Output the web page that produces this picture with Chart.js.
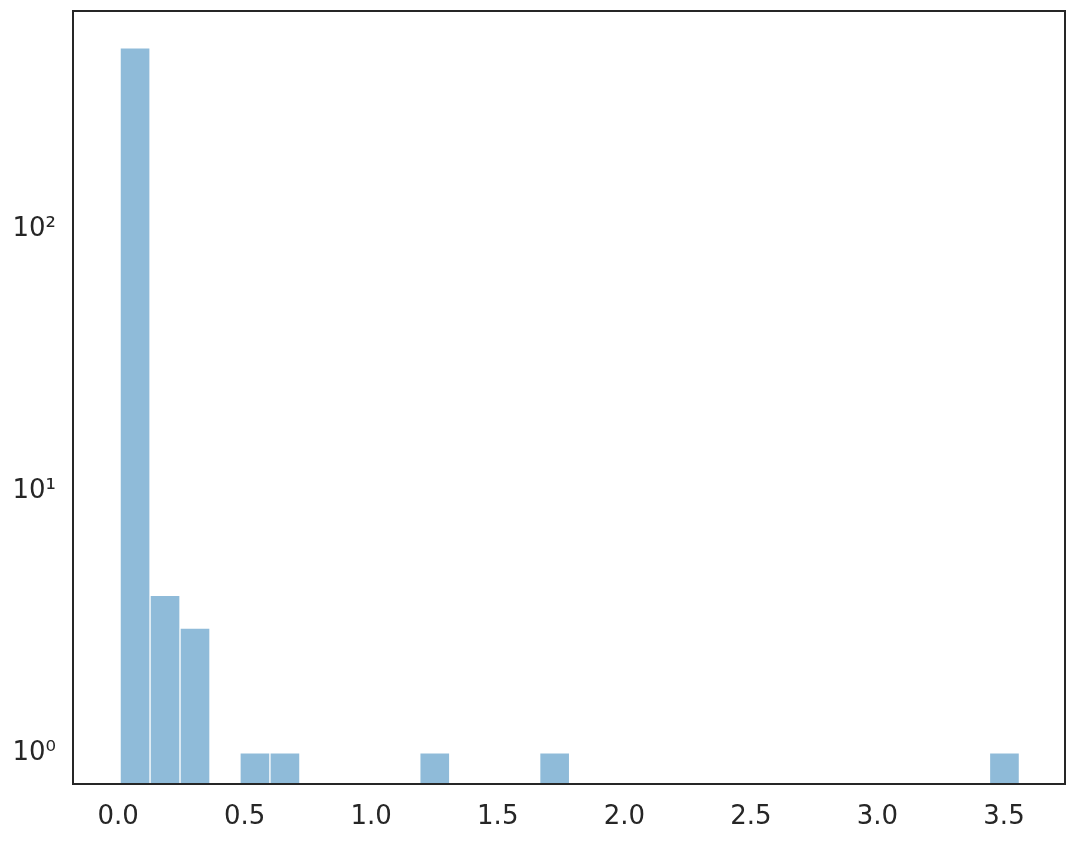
<!DOCTYPE html>
<html>
<head>
<meta charset="utf-8">
<script src="https://cdn.jsdelivr.net/npm/chart.js@4"></script>
<style>
  body { margin: 0; background: #fff; }
  #wrap { width: 1076px; height: 846px; }
</style>
</head>
<body>
<div id="wrap"><canvas id="chart"></canvas></div>
<script>
// histogram bins that have counts (bin centres, bin width ~0.1184)
const binCenters = [0.0672, 0.1856, 0.304, 0.5408, 0.6592, 1.2512, 1.7248, 3.5018];
const binCounts = [495, 4, 3, 1, 1, 1, 1, 1];

const xTicks = [0, 0.5, 1.0, 1.5, 2.0, 2.5, 3.0, 3.5];
const yTicks = [1, 10, 100];
const yTickLabels = ["10\u2070", "10\u00b9", "10\u00b2"];

const ink = "#262626";

// box around the plot area
const frame = {
  id: "frame",
  afterDraw(chart) {
    const a = chart.chartArea;
    const ctx = chart.ctx;
    ctx.save();
    ctx.strokeStyle = ink;
    ctx.lineWidth = 2;
    ctx.strokeRect(a.left, a.top, a.right - a.left, a.bottom - a.top);
    ctx.restore();
  }
};

new Chart(document.getElementById("chart"), {
  type: "bar",
  data: {
    datasets: [{
      data: binCenters.map((x, i) => ({ x: x, y: binCounts[i] })),
      backgroundColor: "rgba(31,119,180,0.5)",
      borderColor: "rgba(255,255,255,0.5)",
      borderWidth: 1,
      barPercentage: 1,
      categoryPercentage: 1
    }]
  },
  options: {
    responsive: true,
    maintainAspectRatio: false,
    animation: false,
    layout: { padding: { top: 11, right: 11, left: 0, bottom: 0 } },
    plugins: { legend: { display: false }, tooltip: { enabled: false } },
    scales: {
      x: {
        type: "linear",
        offset: false,
        min: -0.178,
        max: 3.741,
        grid: { display: false, drawTicks: false, offset: false },
        border: { display: false },
        afterBuildTicks: s => { s.ticks = xTicks.map(v => ({ value: v })); },
        afterFit: s => { s.height = 62; s.paddingLeft = 0; s.paddingRight = 0; },
        ticks: {
          padding: 18,
          color: ink,
          font: { family: "DejaVu Sans", size: 26 },
          callback: v => v.toFixed(1),
          maxRotation: 0
        }
      },
      y: {
        type: "logarithmic",
        min: 0.76,
        max: 685,
        grid: { display: false, drawTicks: false },
        border: { display: false },
        afterBuildTicks: s => { s.ticks = yTicks.map(v => ({ value: v })); },
        afterFit: s => { s.width = 73; s.paddingTop = 0; s.paddingBottom = 0; },
        ticks: {
          padding: 17,
          color: ink,
          font: { family: "DejaVu Sans", size: 26 },
          callback: v => yTickLabels[yTicks.indexOf(v)]
        }
      }
    }
  },
  plugins: [frame]
});
</script>
</body>
</html>
